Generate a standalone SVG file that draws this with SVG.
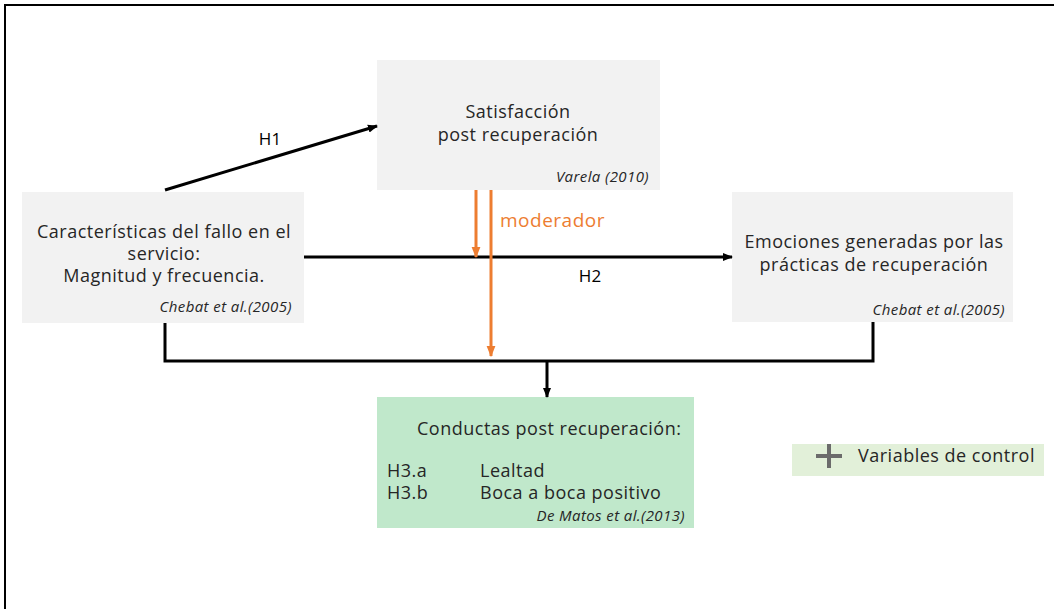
<svg xmlns="http://www.w3.org/2000/svg" width="1054" height="609" viewBox="0 0 1054 609">
<defs>
<marker id="ab" viewBox="0 0 10 10" refX="9" refY="5" markerWidth="10" markerHeight="10" markerUnits="userSpaceOnUse" orient="auto"><path d="M0,1 L10,5 L0,9 Z" fill="#000"/></marker>
<marker id="ao" viewBox="0 0 10 10" refX="9" refY="5" markerWidth="11" markerHeight="11" markerUnits="userSpaceOnUse" orient="auto"><path d="M0,1 L10,5 L0,9 Z" fill="#ed7d31"/></marker>
<style>
.box{fill:#f2f2f2}
.grn{fill:#c0e8cb}
.t{font-family:"Open Sans","Noto Sans",sans-serif;font-size:18px;letter-spacing:0.5px;fill:#262626}
.c{text-anchor:middle}
.ref{font-family:"Open Sans","Noto Sans",sans-serif;font-size:15px;letter-spacing:0.4px;font-style:italic;fill:#262626;text-anchor:end}
.lbl{font-family:"Open Sans","Noto Sans",sans-serif;font-size:17px;fill:#000;text-anchor:middle}
.k{stroke:#000;stroke-width:3;fill:none}
.o{stroke:#ed7d31;stroke-width:3;fill:none}
</style>
</defs>
<rect width="1054" height="609" fill="#fff"/>
<path d="M5,609 V5 H1054" fill="none" stroke="#000" stroke-width="2"/>

<g id="satisfaccion">
<rect class="box" x="377" y="60" width="283" height="130"/>
<text class="t c" x="518" y="118">Satisfacción</text>
<text class="t c" x="518" y="141">post recuperación</text>
<text class="ref" x="649" y="182">Varela (2010)</text>
</g>

<g id="caracteristicas">
<rect class="box" x="22" y="192" width="282" height="131"/>
<text class="t c" x="164" y="238">Características del fallo en el</text>
<text class="t c" x="164" y="260">servicio:</text>
<text class="t c" x="164" y="282">Magnitud y frecuencia.</text>
<text class="ref" x="292" y="312">Chebat et al.(2005)</text>
</g>

<g id="emociones">
<rect class="box" x="732" y="192" width="281" height="130"/>
<text class="t c" x="874" y="248">Emociones generadas por las</text>
<text class="t c" x="874" y="271">prácticas de recuperación</text>
<text class="ref" x="1005" y="315">Chebat et al.(2005)</text>
</g>

<g id="conductas">
<rect class="grn" x="377" y="397" width="317" height="131"/>
<text class="t" x="417" y="435">Conductas post recuperación:</text>
<text class="t" x="387" y="477">H3.a</text>
<text class="t" x="480" y="477">Lealtad</text>
<text class="t" x="387" y="499">H3.b</text>
<text class="t" x="480" y="499">Boca a boca positivo</text>
<text class="ref" x="685" y="521">De Matos et al.(2013)</text>
</g>

<g id="variables">
<rect x="792" y="444" width="252" height="32" fill="#e2f0d9"/>
<path d="M816,456 H842 M829,444 V468" stroke="#6b6b6b" stroke-width="4" fill="none"/>
<text class="t" x="858" y="462">Variables de control</text>
</g>

<g id="connectors">
<line class="k" x1="165" y1="190" x2="377" y2="126" marker-end="url(#ab)"/>
<text class="lbl" x="270" y="145">H1</text>
<line class="k" x1="304" y1="257" x2="732" y2="257" marker-end="url(#ab)"/>
<text class="lbl" x="590" y="282">H2</text>
<line class="o" x1="476" y1="190" x2="476" y2="257" marker-end="url(#ao)"/>
<line class="o" x1="491" y1="190" x2="491" y2="356" marker-end="url(#ao)"/>
<text x="500" y="227" font-family="'Open Sans','Noto Sans',sans-serif" font-size="19" letter-spacing="0.5" fill="#ed7d31">moderador</text>
<path class="k" d="M165,323 V361 H873 V322"/>
<line class="k" x1="547" y1="361" x2="547" y2="397" marker-end="url(#ab)"/>
</g>
</svg>
